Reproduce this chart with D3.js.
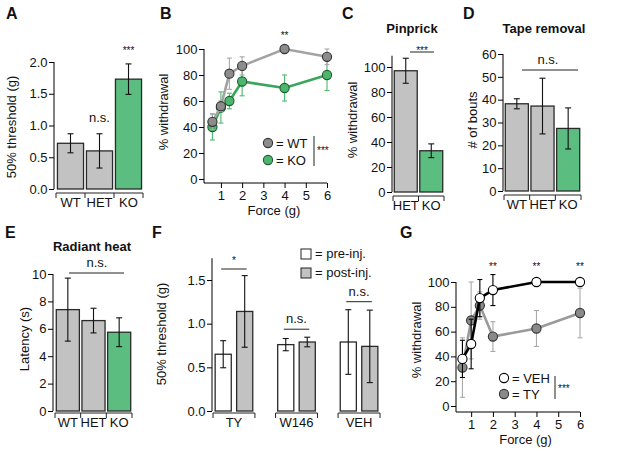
<!DOCTYPE html>
<html>
<head>
<meta charset="utf-8">
<script src="https://cdn.jsdelivr.net/npm/d3@7"></script>
<style>
  body { margin: 0; background: #fff; }
  text { font-family: "Liberation Sans", Arial, sans-serif; fill: #111; }
</style>
</head>
<body>
<div id="chart"></div>
<script>
// ---- data ----
var genotypes   = ["WT", "HET", "KO"];
var threshMean  = [0.72, 0.60, 1.73];        // A
var threshErr   = [0.15, 0.27, 0.24];
var threshSig   = ["", "n.s.", "***"];

var forces      = [0.6, 1, 1.4, 2, 4, 6];    // B, G
var wtWithdraw  = [44, 56, 81, 87, 100, 94];
var wtErr       = [6, 4, 12, 7, 0, 6];
var koWithdraw  = [40, 55, 60, 75, 70, 80];
var koErr       = [10, 12, 6, 11, 10, 12];
var forceSigB   = ["", "", "", "", "**", ""];

var pinCats     = ["HET", "KO"];             // C
var pinMean     = [97, 33];
var pinErr      = [10, 5.5];

var tapeMean    = [38.2, 37.2, 27.4];        // D
var tapeErr     = [2.2, 12.2, 9];

var heatMean    = [7.4, 6.6, 5.75];          // E
var heatErr     = [2.3, 0.9, 1.05];

var drugs       = ["TY", "W146", "VEH"];     // F
var preMean     = [0.65, 0.76, 0.79];
var preErr      = [0.155, 0.07, 0.37];
var postMean    = [1.14, 0.79, 0.74];
var postErr     = [0.41, 0.055, 0.415];
var drugSig     = ["*", "n.s.", "n.s."];

var vehWithdraw = [38, 50, 87, 93.5, 100, 100]; // G
var vehErr      = [15, 20, 15, 12.5, 0, 0];
var tyWithdraw  = [31, 69, 81, 56, 62.5, 75];
var tyErr       = [24, 31, 11, 12, 14.5, 20];
var forceSigG   = ["", "", "", "**", "**", "**"];

var GRAY = "#c2c2c2", GREEN = "#5bbd80";
var FS = 13;

var svg = d3.select("#chart").append("svg")
  .attr("width", 617).attr("height", 456)
  .style("font-size", "12px");

function label(txt, x, y, opt) {
  opt = opt || {};
  return svg.append("text").attr("x", x).attr("y", y)
    .attr("text-anchor", opt.anchor || "start")
    .style("font-size", (opt.size || FS) + "px")
    .style("font-weight", opt.bold ? "bold" : null)
    .text(txt);
}
function ylabel(txt, x, y) {
  svg.append("text").attr("transform", "translate(" + x + "," + y + ")rotate(-90)")
    .attr("text-anchor", "middle").style("font-size", FS + "px").text(txt);
}
function hline(x1, x2, y) {
  svg.append("line").attr("x1", x1).attr("x2", x2).attr("y1", y).attr("y2", y)
    .attr("stroke", "#222").attr("stroke-width", 1);
}

function yAxis(y, x, ticks, fmt, top, bottom) {
  var g = svg.append("g").attr("transform", "translate(" + x + ",0)")
    .call(d3.axisLeft(y).tickValues(ticks).tickFormat(fmt).tickSize(5).tickPadding(1.5));
  g.select(".domain").remove();
  g.selectAll("text").style("font-size", FS + "px");
  g.append("line").attr("y1", top).attr("y2", bottom).attr("stroke", "#000");
  return g;
}

function errBar(g, x, lo, hi, color, cap) {
  g.append("line").attr("x1", x).attr("x2", x).attr("y1", lo).attr("y2", hi)
    .attr("stroke", color).attr("stroke-width", 1.1);
  [lo, hi].forEach(function(v) {
    g.append("line").attr("x1", x - cap).attr("x2", x + cap).attr("y1", v).attr("y2", v)
      .attr("stroke", color).attr("stroke-width", 1.1);
  });
}

// category axis drawn Igor-style: line below the bars with ticks at band edges
function catAxis(x, cats, y0) {
  var half = x.step() * x.paddingInner() / 2;
  var edges = cats.map(function(c) { return x(c) - half; });
  edges.push(x(cats[cats.length - 1]) + x.bandwidth() + half);
  hline(edges[0], edges[edges.length - 1], y0);
  edges.forEach(function(e) {
    svg.append("line").attr("x1", e).attr("x2", e).attr("y1", y0).attr("y2", y0 + 5)
      .attr("stroke", "#222");
  });
  cats.forEach(function(c) {
    label(c, x(c) + x.bandwidth() / 2, y0 + 14, {anchor: "middle"});
  });
}

function barPanel(cfg) {
  var y = d3.scaleLinear().domain(cfg.yDomain).range(cfg.yRange);
  var x = d3.scaleBand().domain(cfg.cats).range(cfg.xRange)
    .paddingInner(0.1).paddingOuter(0.05);
  var g = svg.append("g");
  cfg.cats.forEach(function(c, i) {
    g.append("rect").attr("x", x(c)).attr("width", x.bandwidth())
      .attr("y", y(cfg.vals[i])).attr("height", y(0) - y(cfg.vals[i]))
      .attr("fill", cfg.fills[i]).attr("stroke", "#2a2a2a").attr("stroke-width", 1.3);
    errBar(g, x(c) + x.bandwidth() / 2, y(cfg.vals[i] - cfg.errs[i]),
           y(cfg.vals[i] + cfg.errs[i]), "#111", 3);
  });
  yAxis(y, cfg.axisX, cfg.ticks, cfg.fmt, y(cfg.axisTop), y(0));
  catAxis(x, cfg.cats, cfg.catY);
  return {x: x, y: y};
}

function linePanel(cfg) {
  var x = d3.scaleLinear().domain(cfg.xDomain).range(cfg.xRange);
  var y = d3.scaleLinear().domain([0, 100]).range(cfg.yRange);
  var g = svg.append("g");
  var line = d3.line().x(function(d) { return x(d[0]); }).y(function(d) { return y(d[1]); });
  cfg.series.forEach(function(s) {
    var pts = forces.map(function(f, i) { return [f, s.vals[i]]; });
    forces.forEach(function(f, i) {
      if (s.errs[i] > 0)
        errBar(g, x(f), y(s.vals[i] - s.errs[i]), y(s.vals[i] + s.errs[i]), s.errColor, 2.5);
    });
    g.append("path").datum(pts).attr("d", line).attr("fill", "none")
      .attr("stroke", s.lineColor).attr("stroke-width", 2.6);
    g.selectAll(null).data(pts).enter().append("circle")
      .attr("cx", function(d) { return x(d[0]); }).attr("cy", function(d) { return y(d[1]); })
      .attr("r", 4.6).attr("fill", s.fill).attr("stroke", s.stroke).attr("stroke-width", 1.1);
  });
  yAxis(y, cfg.axisX, [0, 20, 40, 60, 80, 100], d3.format("d"), y(100), cfg.axisY);
  var xg = svg.append("g").attr("transform", "translate(0," + cfg.axisY + ")")
    .call(d3.axisBottom(x).tickValues([1, 2, 3, 4, 5, 6]).tickFormat(d3.format("d"))
      .tickSize(5).tickPadding(3).tickSizeOuter(0));
  xg.select(".domain").remove();
  xg.selectAll("text").style("font-size", FS + "px");
  xg.append("line").attr("x1", cfg.axisX).attr("x2", x(6)).attr("stroke", "#000");
  label("Force (g)", (x(1) + x(6)) / 2, cfg.axisY + 32, {anchor: "middle"});
  cfg.sig.forEach(function(s, i) {
    if (s) label(s, x(forces[i]), cfg.sigY, {anchor: "middle", size: 10});
  });
  return {x: x, y: y};
}

function legendDot(cx, cy, fill, stroke, txt) {
  svg.append("circle").attr("cx", cx).attr("cy", cy).attr("r", 4.6)
    .attr("fill", fill).attr("stroke", stroke).attr("stroke-width", 1.1);
  label(txt, cx + 8, cy + 4.5);
}

// ---- A ----
label("A", 6, 19, {bold: true, size: 16});
var a = barPanel({cats: genotypes, vals: threshMean, errs: threshErr,
  fills: [GRAY, GRAY, GREEN], yDomain: [0, 2], yRange: [189, 62], xRange: [56, 143],
  axisX: 54, ticks: [0, 0.5, 1, 1.5, 2], fmt: d3.format(".1f"), axisTop: 2, catY: 193});
threshSig.forEach(function(s, i) {
  if (!s) return;
  var cx = a.x(genotypes[i]) + a.x.bandwidth() / 2;
  var top = a.y(threshMean[i] + threshErr[i]);
  label(s, cx, top - (s === "***" ? 10 : 12), {anchor: "middle", size: s === "***" ? 10 : FS});
});
ylabel("50% threshold (g)", 16, 127);

// ---- B ----
label("B", 160, 19, {bold: true, size: 16});
linePanel({xDomain: [0.25, 6], xRange: [205, 327], yRange: [179, 49], axisX: 204, axisY: 183,
  sigY: 39, sig: forceSigB,
  series: [
    {vals: koWithdraw, errs: koErr, lineColor: "#3aa65a", fill: "#4cb76c", stroke: "#1d5e30", errColor: "#4cb76c"},
    {vals: wtWithdraw, errs: wtErr, lineColor: "#a3a3a3", fill: "#8c8c8c", stroke: "#333", errColor: "#a8a8a8"}
  ]});
legendDot(268, 143, "#8c8c8c", "#333", "= WT");
legendDot(268, 160, "#4cb76c", "#1d5e30", "= KO");
svg.append("line").attr("x1", 314).attr("x2", 314).attr("y1", 136).attr("y2", 166).attr("stroke", "#222");
label("***", 317, 154, {size: 10});
ylabel("% withdrawal", 168, 112);

// ---- C ----
label("C", 342, 19, {bold: true, size: 16});
label("Pinprick", 412, 33, {anchor: "middle", bold: true});
barPanel({cats: pinCats, vals: pinMean, errs: pinErr, fills: [GRAY, GREEN],
  yDomain: [0, 100], yRange: [192, 67], xRange: [393, 444],
  axisX: 392, ticks: [0, 20, 40, 60, 80, 100], fmt: d3.format("d"), axisTop: 109, catY: 196});
hline(410, 434, 52);
label("***", 422, 54, {anchor: "middle", size: 10});
ylabel("% withdrawal", 357, 120);

// ---- D ----
label("D", 463, 19, {bold: true, size: 16});
label("Tape removal", 544, 33, {anchor: "middle", bold: true});
barPanel({cats: genotypes, vals: tapeMean, errs: tapeErr, fills: [GRAY, GRAY, GREEN],
  yDomain: [0, 60], yRange: [191, 54], xRange: [504, 581],
  axisX: 503, ticks: [0, 10, 20, 30, 40, 50, 60], fmt: d3.format("d"), axisTop: 60, catY: 195});
hline(522, 578, 70);
label("n.s.", 548, 64, {anchor: "middle"});
ylabel("# of bouts", 477, 120);

// ---- E ----
label("E", 5, 238, {bold: true, size: 16});
label("Radiant heat", 92, 251, {anchor: "middle", bold: true});
barPanel({cats: genotypes, vals: heatMean, errs: heatErr, fills: [GRAY, GRAY, GREEN],
  yDomain: [0, 10], yRange: [411, 274], xRange: [55, 132],
  axisX: 53, ticks: [0, 2, 4, 6, 8, 10], fmt: d3.format("d"), axisTop: 10, catY: 413});
hline(69, 124, 273);
label("n.s.", 97, 267, {anchor: "middle"});
ylabel("Latency (s)", 29, 339);

// ---- F ----
label("F", 152, 238, {bold: true, size: 16});
(function() {
  var y = d3.scaleLinear().domain([0, 1.5]).range([411, 280]);
  var xg = d3.scaleBand().domain(drugs).range([213, 380]).paddingInner(0.33);
  var xi = d3.scaleBand().domain(["pre", "post"]).range([0, xg.bandwidth()])
    .paddingInner(0.25).paddingOuter(0.1);
  var g = svg.append("g");
  drugs.forEach(function(d, i) {
    [["pre", preMean[i], preErr[i], "#fff"], ["post", postMean[i], postErr[i], GRAY]].forEach(function(b) {
      var bx = xg(d) + xi(b[0]);
      g.append("rect").attr("x", bx).attr("width", xi.bandwidth())
        .attr("y", y(b[1])).attr("height", y(0) - y(b[1]))
        .attr("fill", b[3]).attr("stroke", "#2a2a2a").attr("stroke-width", 1.3);
      errBar(g, bx + xi.bandwidth() / 2, y(b[1] - b[2]), y(b[1] + b[2]), "#111", 3);
    });
    // per-group bracket axis
    var l = xg(d), r = xg(d) + xg.bandwidth();
    hline(l, r, 413);
    [l, r].forEach(function(e) {
      svg.append("line").attr("x1", e).attr("x2", e).attr("y1", 413).attr("y2", 418).attr("stroke", "#222");
    });
    label(d, (l + r) / 2, 427, {anchor: "middle"});
    // significance
    var c1 = xg(d) + xi("pre") + xi.bandwidth() / 2, c2 = xg(d) + xi("post") + xi.bandwidth() / 2;
    var top = y(Math.max(preMean[i] + preErr[i], postMean[i] + postErr[i]));
    var ly = drugSig[i] === "*" ? 269 : top - 8;
    hline(c1 - 2, c2 + 2, ly);
    label(drugSig[i], (c1 + c2) / 2, drugSig[i] === "*" ? ly - 5 : ly - 6,
      {anchor: "middle", size: drugSig[i] === "*" ? 10 : FS});
  });
  yAxis(y, 212, [0, 0.5, 1, 1.5], d3.format(".1f"), y(1.75), y(0));
})();
svg.append("rect").attr("x", 301).attr("y", 249).attr("width", 10).attr("height", 10)
  .attr("fill", "#fff").attr("stroke", "#222");
label("= pre-inj.", 315, 258);
svg.append("rect").attr("x", 301).attr("y", 268).attr("width", 10).attr("height", 10)
  .attr("fill", GRAY).attr("stroke", "#222");
label("= post-inj.", 315, 277);
ylabel("50% threshold (g)", 166, 334);

// ---- G ----
label("G", 400, 238, {bold: true, size: 16});
linePanel({xDomain: [0.35, 6], xRange: [457, 580], yRange: [406, 282], axisX: 456, axisY: 412,
  sigY: 270, sig: forceSigG,
  series: [
    {vals: tyWithdraw, errs: tyErr, lineColor: "#9a9a9a", fill: "#8a8a8a", stroke: "#333", errColor: "#a8a8a8"},
    {vals: vehWithdraw, errs: vehErr, lineColor: "#000", fill: "#fff", stroke: "#000", errColor: "#000"}
  ]});
legendDot(504, 378, "#fff", "#000", "= VEH");
legendDot(504, 394, "#8a8a8a", "#333", "= TY");
svg.append("line").attr("x1", 555).attr("x2", 555).attr("y1", 376).attr("y2", 399).attr("stroke", "#222");
label("***", 558, 392, {size: 10});
ylabel("% withdrawal", 421, 340);
</script>
</body>
</html>
